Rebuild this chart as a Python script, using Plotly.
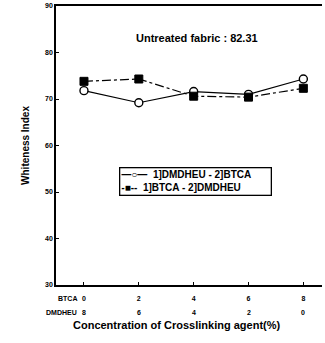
import plotly.graph_objects as go

btca = [0, 2, 4, 6, 8]
dmdheu = [8, 6, 4, 2, 0]
dmdheu_btca = [71.8, 69.2, 71.6, 71.0, 74.3]
btca_dmdheu = [73.8, 74.3, 70.6, 70.4, 72.3]
y_ticks = [30, 40, 50, 60, 70, 80, 90]
legend_lines = ["—○—  1]DMDHEU - 2]BTCA", "-■--  1]BTCA - 2]DMDHEU"]

FONT = "Liberation Sans"

fig = go.Figure()
fig.add_trace(go.Scatter(
    x=btca, y=dmdheu_btca, mode="lines+markers", name="1]DMDHEU - 2]BTCA",
    line=dict(color="black", width=1.2),
    marker=dict(symbol="circle", size=8, color="white", line=dict(color="black", width=1.4)),
))
fig.add_trace(go.Scatter(
    x=btca, y=btca_dmdheu, mode="lines+markers", name="1]BTCA - 2]DMDHEU",
    line=dict(color="black", width=1.2, dash="dashdot"),
    marker=dict(symbol="square", size=8, color="black", line=dict(color="black", width=1)),
))

annotations = []
for xv, dv in zip(btca, dmdheu):
    annotations.append(dict(x=xv, y=-0.097, xref="x", yref="paper", text=f"<b>{dv}</b>",
                            showarrow=False, yanchor="middle",
                            font=dict(family=FONT, size=7, color="black")))
annotations.append(dict(x=0.088, y=-0.05, xref="paper", yref="paper", text="<b>BTCA</b>",
                        showarrow=False, xanchor="right", yanchor="middle",
                        font=dict(family=FONT, size=7, color="black")))
annotations.append(dict(x=0.088, y=-0.097, xref="paper", yref="paper", text="<b>DMDHEU</b>",
                        showarrow=False, xanchor="right", yanchor="middle",
                        font=dict(family=FONT, size=7, color="black")))
annotations.append(dict(x=0.53, y=0.885, xref="paper", yref="paper", text="<b>Untreated fabric : 82.31</b>",
                        showarrow=False, yanchor="middle",
                        font=dict(family=FONT, size=11, color="black")))
annotations.append(dict(x=0.455, y=-0.145, xref="paper", yref="paper",
                        text="<b>Concentration of Crosslinking agent(%)</b>",
                        showarrow=False, yanchor="middle",
                        font=dict(family=FONT, size=11, color="black")))
annotations.append(dict(x=0.526, y=0.37, xref="paper", yref="paper",
                        text="<br>".join(f"<b>{t}</b>" for t in legend_lines),
                        showarrow=False, xanchor="center", yanchor="middle", align="left",
                        bordercolor="black", borderwidth=1.3, borderpad=1, bgcolor="white",
                        width=148,
                        font=dict(family=FONT, size=10, color="black")))

fig.update_layout(
    width=325, height=343,
    margin=dict(l=56, r=3, t=6, b=58),
    paper_bgcolor="white", plot_bgcolor="white",
    font=dict(family=FONT, color="black"),
    showlegend=False,
    xaxis=dict(range=[-1.02, 8.68], tickvals=btca, ticktext=[f"<b>{v}</b>" for v in btca],
               showgrid=False, zeroline=False, showline=True, linecolor="black", linewidth=1.5,
               mirror=True, ticks="inside", ticklen=3, tickcolor="black",
               ticklabelstandoff=6,
               tickfont=dict(family=FONT, size=7, color="black")),
    yaxis=dict(range=[30, 90], tickvals=y_ticks, ticktext=[f"<b>{v}</b>" for v in y_ticks],
               showgrid=False, zeroline=False, showline=True, linecolor="black", linewidth=1.5,
               ticks="inside", ticklen=3, tickcolor="black",
               tickfont=dict(family=FONT, size=7, color="black"),
               title=dict(text="<b>Whiteness Index</b>", font=dict(family=FONT, size=10, color="black"),
                          standoff=14)),
    annotations=annotations,
)

fig.write_html("out.html")
